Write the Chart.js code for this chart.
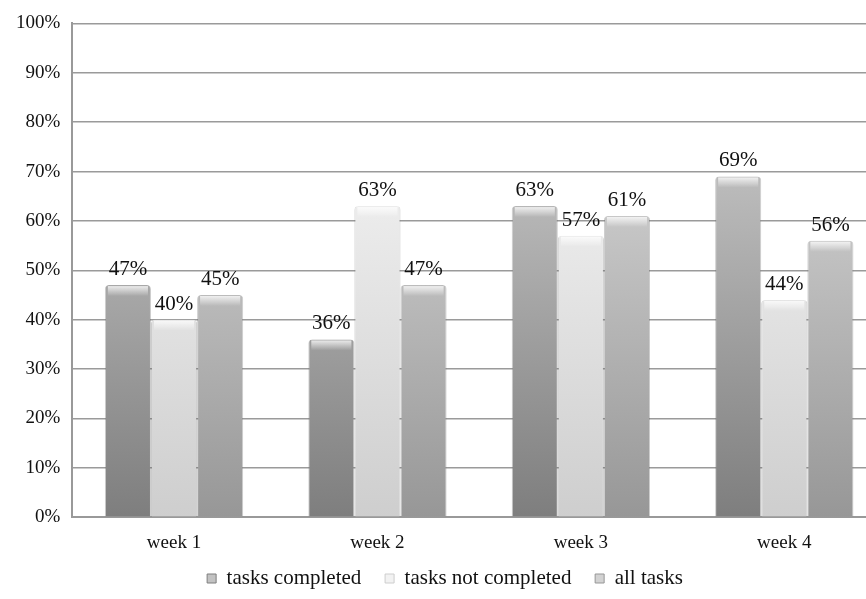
<!DOCTYPE html>
<html><head><meta charset="utf-8">
<script src="https://cdn.jsdelivr.net/npm/chart.js@4"></script>
<style>
html,body{margin:0;padding:0;background:#fff;overflow:hidden;}
#wrap{width:886px;height:599px;position:relative;}
</style></head>
<body><div id="wrap"><canvas id="c"></canvas></div>
<script>
const categories = ["week 1","week 2","week 3","week 4"];
const seriesNames = ["tasks completed","tasks not completed","all tasks"];
const tasksCompleted = [47,36,63,69];
const tasksNotCompleted = [40,63,57,44];
const allTasks = [45,47,61,56];
const yTicks = [0,10,20,30,40,50,60,70,80,90,100];

const palettes = [
  ["#7e7e7e","#c2c2c2"],
  ["#cecece","#f2f2f2"],
  ["#979797","#d2d2d2"]
];
function grad(idx){
  return function(ctx){
    const ch = ctx.chart; const a = ch.chartArea;
    if(!a) return palettes[idx][0];
    const g = ch.ctx.createLinearGradient(0,a.bottom,0,a.top+120);
    g.addColorStop(0,palettes[idx][0]);
    g.addColorStop(1,palettes[idx][1]);
    return g;
  };
}
const labelPlugin = {
  id:'vals',
  afterDatasetsDraw(chart){
    const ctx = chart.ctx;
    ctx.save();
    ctx.font = '21px "Liberation Serif"';
    ctx.fillStyle = '#111';
    ctx.textAlign = 'center';
    ctx.textBaseline = 'bottom';
    chart.data.datasets.forEach((ds,i)=>{
      const meta = chart.getDatasetMeta(i);
      meta.data.forEach((bar,j)=>{
        ctx.fillText(ds.data[j]+'%', bar.x, bar.y-5);
      });
    });
    ctx.restore();
  }
};
const capPlugin = {
  id:'caps',
  afterDatasetsDraw(chart){
    const ctx = chart.ctx;
    ctx.save();
    chart.data.datasets.forEach((ds,i)=>{
      chart.getDatasetMeta(i).data.forEach(bar=>{
        const w = bar.width, x = bar.x - w/2, y = bar.y;
        const g = ctx.createLinearGradient(0,y,0,y+11);
        g.addColorStop(0,'rgba(255,255,255,0.85)');
        g.addColorStop(1,'rgba(255,255,255,0)');
        ctx.fillStyle = g;
        ctx.fillRect(x+3,y+1,w-6,11);
      });
    });
    ctx.restore();
  }
};
const sources = [tasksCompleted, tasksNotCompleted, allTasks];
new Chart(document.getElementById('c'),{
  type:'bar',
  data:{
    labels:categories,
    datasets: sources.map((d,i)=>({
      label:seriesNames[i],
      data:d,
      backgroundColor:grad(i),
      borderColor:'rgba(110,110,110,0.35)',
      borderWidth:{left:1,right:1,top:0,bottom:0},
      borderRadius:{topLeft:4,topRight:4},
      borderSkipped:'bottom',
      barPercentage:1.0,
      categoryPercentage:0.68
    }))
  },
  options:{
    responsive:true,
    maintainAspectRatio:false,
    animation:false,
    layout:{padding:{top:6,left:4,right:0,bottom:0}},
    plugins:{
      legend:{
        position:'bottom',
        labels:{
          font:{family:'Liberation Serif',size:21},
          color:'#111',
          boxWidth:9, boxHeight:9,
          padding:8,
          generateLabels(chart){
            return seriesNames.map((n,i)=>({text:n+(i<seriesNames.length-1?'   ':''),fillStyle:palettes[i][1],strokeStyle:palettes[i][0],lineWidth:1,datasetIndex:i,fontColor:'#111'}));
          }
        }
      },
      tooltip:{enabled:false}
    },
    scales:{
      x:{
        grid:{display:false},
        border:{color:'#999',width:2},
        ticks:{font:{family:'Liberation Serif',size:19},color:'#111',padding:6}
      },
      y:{
        min:0,max:100,
        afterBuildTicks(s){ s.ticks = yTicks.map(v=>({value:v})); },
        grid:{color:'#9a9a9a',lineWidth:1.5,drawTicks:false},
        border:{color:'#999',width:2},
        ticks:{font:{family:'Liberation Serif',size:19},color:'#111',padding:12,callback:v=>v+'%'}
      }
    }
  },
  plugins:[capPlugin,labelPlugin]
});
</script></body></html>
